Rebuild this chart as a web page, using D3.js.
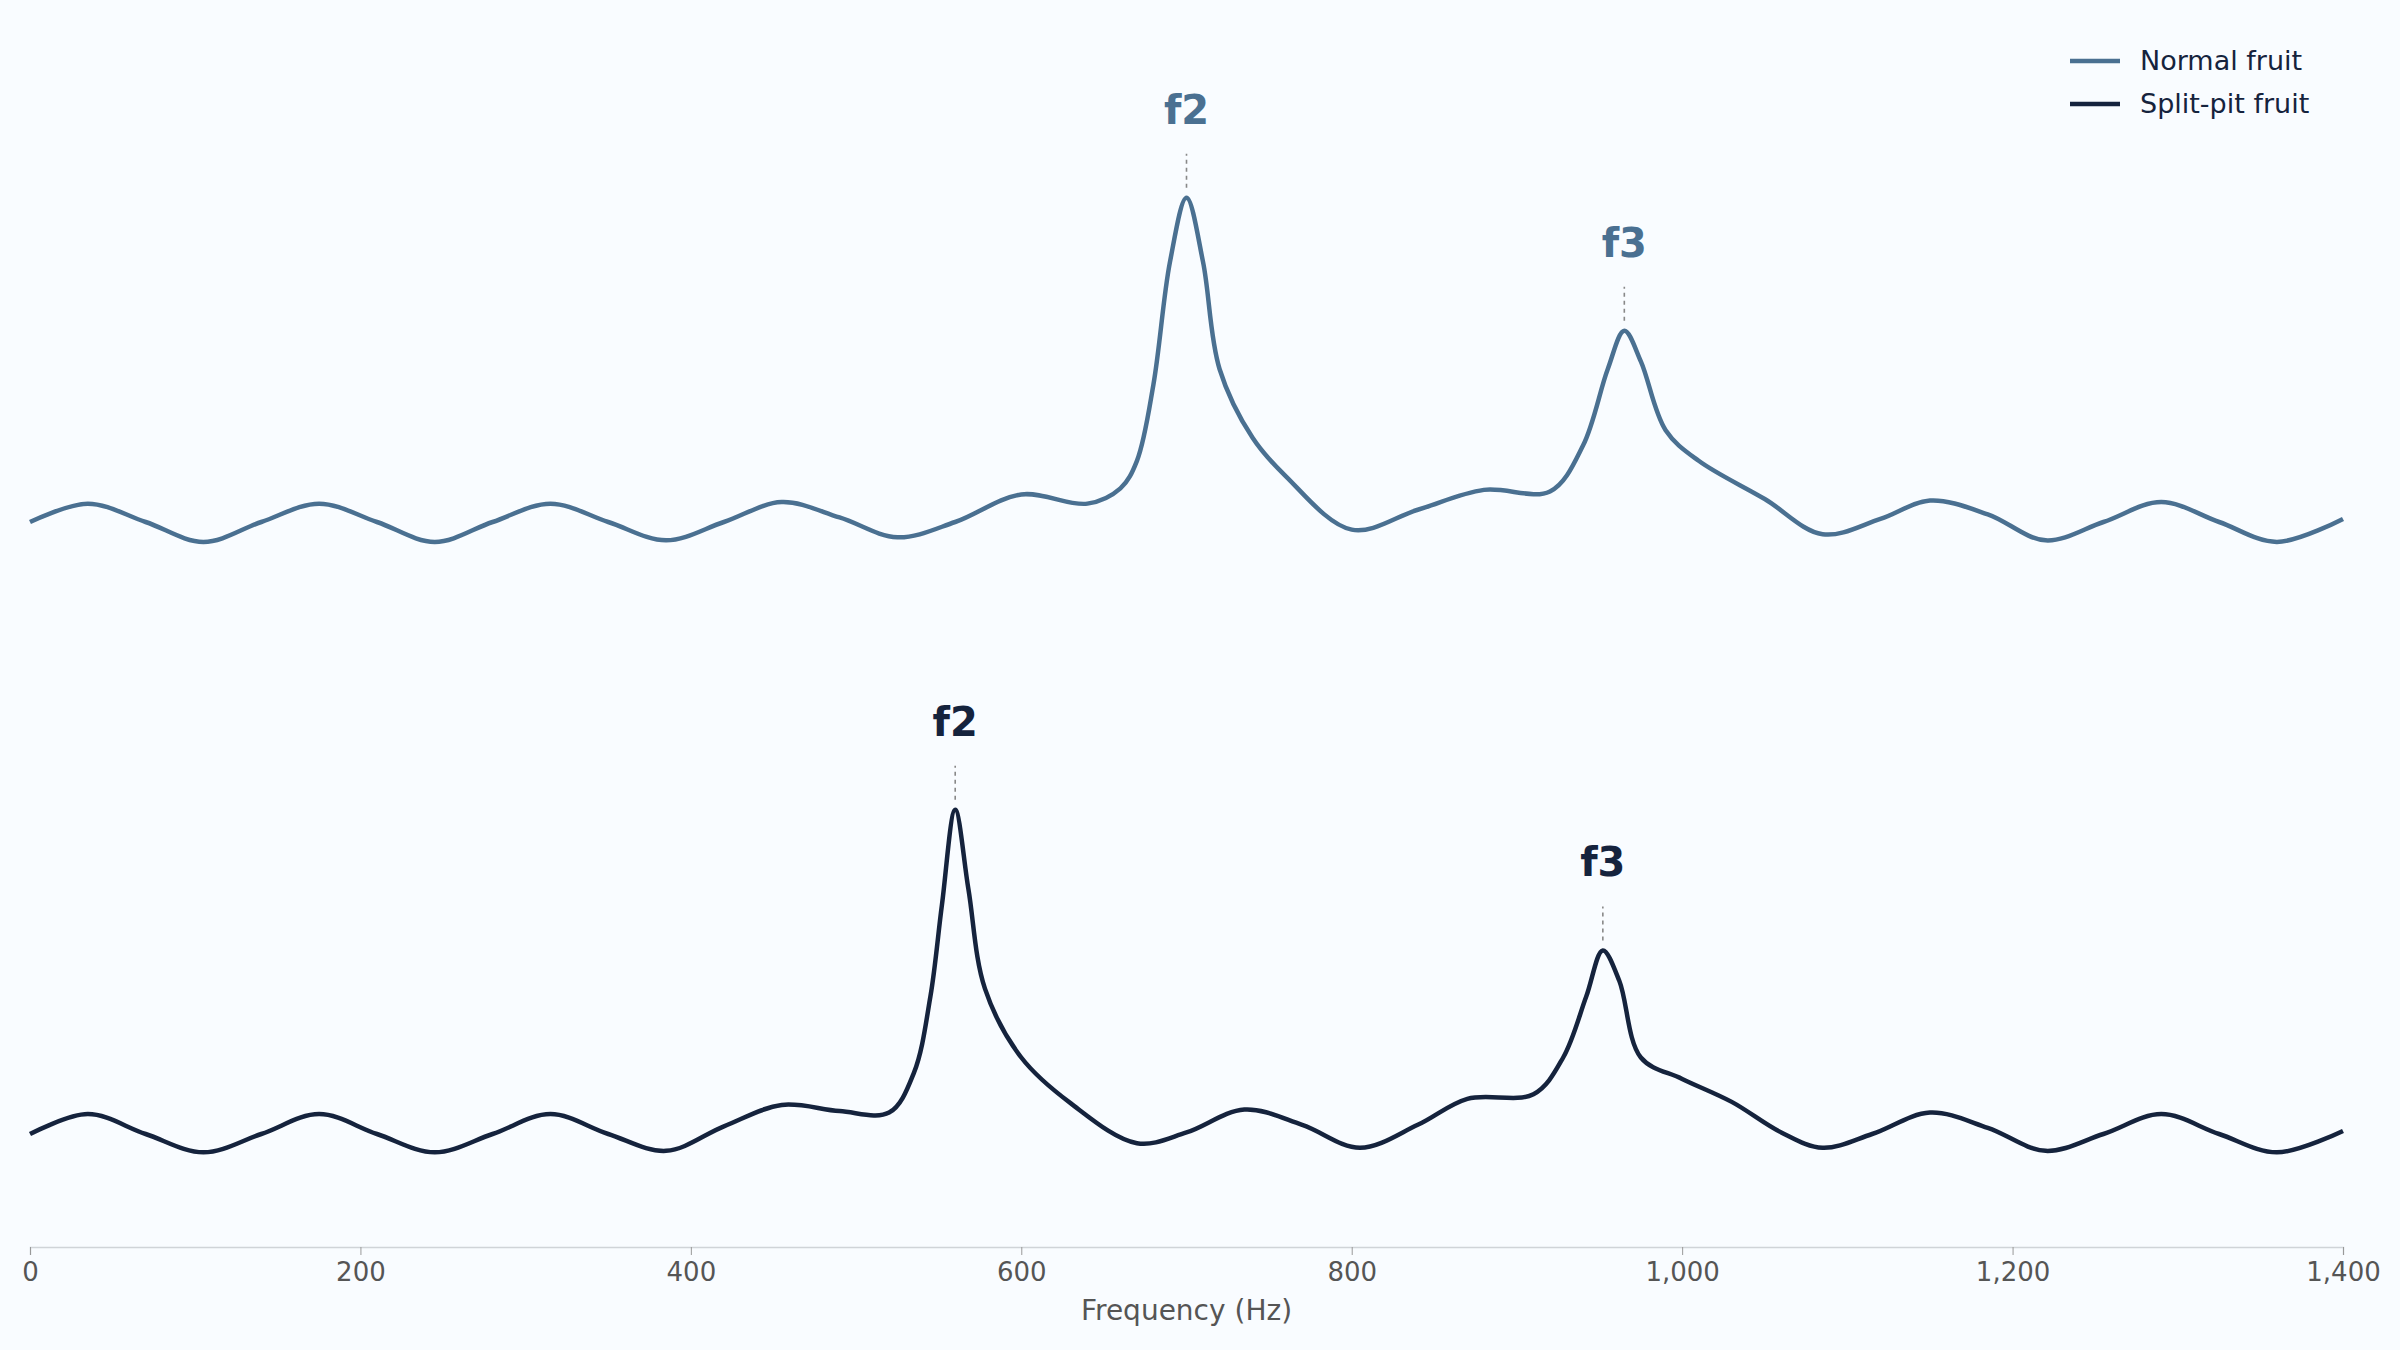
<!DOCTYPE html>
<html><head><meta charset="utf-8">
<script src="https://cdn.jsdelivr.net/npm/d3@7"></script>
<style>body{margin:0;background:#f9fcff}svg{display:block;font-family:"DejaVu Sans",sans-serif}</style>
</head><body>
<svg id="chart" width="2400" height="1350"></svg>
<script>
// spectra (relative amplitude)
var normalFreq = [0,35,70,105,140,175,210,245,280,315,350,385,420,455,490,525,560,600,640,660,670,680,690,700,710,720,740,760,800,840,880,920,940,955,965,975,990,1010,1050,1085,1120,1150,1185,1220,1255,1290,1325,1360,1400];
var normalAmp  = [0,0.12,0,-0.13,0,0.12,0,-0.13,0,0.12,0,-0.12,0,0.13,0.03,-0.1,0,0.18,0.12,0.22,0.4,0.9,1.7,2.12,1.7,1.0,0.55,0.3,-0.05,0.08,0.21,0.2,0.5,1.0,1.25,1.05,0.6,0.4,0.15,-0.08,0.02,0.14,0.05,-0.12,0,0.13,0,-0.13,0.02];
var splitFreq  = [0,35,70,105,140,175,210,245,280,315,350,385,420,455,490,520,535,545,552,560,568,578,600,630,670,700,735,770,805,840,870,910,928,942,952,962,975,1000,1030,1060,1085,1115,1150,1185,1220,1255,1290,1325,1360,1400];
var splitAmp   = [0,0.13,0,-0.12,0,0.13,0,-0.12,0,0.13,0,-0.11,0.05,0.19,0.15,0.14,0.4,0.9,1.5,2.12,1.6,0.95,0.5,0.2,-0.06,0.01,0.16,0.06,-0.09,0.06,0.23,0.26,0.5,0.9,1.2,1.0,0.5,0.36,0.21,0.01,-0.09,0,0.14,0.04,-0.11,0,0.13,0,-0.12,0.02];
var peaks = [
  {series:0, name:"f2", f:700, a:2.12},
  {series:0, name:"f3", f:965, a:1.25},
  {series:1, name:"f2", f:560, a:2.12},
  {series:1, name:"f3", f:952, a:1.2}
];
var seriesNames = ["Normal fruit", "Split-pit fruit"];
var seriesColors = ["#4a7091", "#15233d"];
var seriesOffset = [4, 0];
var xTicks = [0,200,400,600,800,1000,1200,1400];

var svg = d3.select("#chart");
var x = d3.scaleLinear().domain([0,1400]).range([30,2343]);
var y = d3.scaleLinear().domain([0,4]).range([1134,522]);

svg.append("rect").attr("width",2400).attr("height",1350).attr("fill","#f9fcff");

var data = [
  normalFreq.map(function(f,i){return [f, normalAmp[i]];}),
  splitFreq.map(function(f,i){return [f, splitAmp[i]];})
];
var line = function(k){
  return d3.line().curve(d3.curveCatmullRom.alpha(0.5))
    .x(function(d){return x(d[0]);})
    .y(function(d){return y(d[1]+seriesOffset[k]);});
};
data.forEach(function(s,k){
  svg.append("path").attr("d", line(k)(s)).attr("fill","none")
    .attr("stroke", seriesColors[k]).attr("stroke-width",4.5);
});

peaks.forEach(function(p){
  var px = x(p.f), py = y(p.a + seriesOffset[p.series]);
  svg.append("line").attr("x1",px).attr("x2",px).attr("y1",py-10).attr("y2",py-44)
    .attr("stroke","#888").attr("stroke-width",1.6).attr("stroke-dasharray","4,4");
  svg.append("text").attr("x",px).attr("y",py-74).attr("text-anchor","middle")
    .attr("font-size",40).attr("font-weight","bold").attr("fill",seriesColors[p.series]).text(p.name);
});

var ax = svg.append("g").attr("transform","translate(0,1247)")
  .call(d3.axisBottom(x).tickValues(xTicks).tickSize(8).tickPadding(8));
ax.select(".domain").attr("stroke","#d0d4d8").attr("stroke-width",1.5);
ax.selectAll(".tick line").attr("stroke","#999");
ax.selectAll("text").attr("font-size",26).attr("fill","#555").attr("font-family","DejaVu Sans");
svg.append("text").attr("x",x(700)).attr("y",1320).attr("text-anchor","middle")
  .attr("font-size",28).attr("fill","#555").text("Frequency (Hz)");

var lg = svg.append("g").attr("transform","translate(2070,61)");
seriesNames.forEach(function(n,i){
  lg.append("line").attr("x1",0).attr("x2",50).attr("y1",i*43).attr("y2",i*43)
    .attr("stroke",seriesColors[i]).attr("stroke-width",4.5);
  lg.append("text").attr("x",70).attr("y",i*43+9).attr("font-size",27).attr("fill","#15233d").text(n);
});
</script>
</body></html>
